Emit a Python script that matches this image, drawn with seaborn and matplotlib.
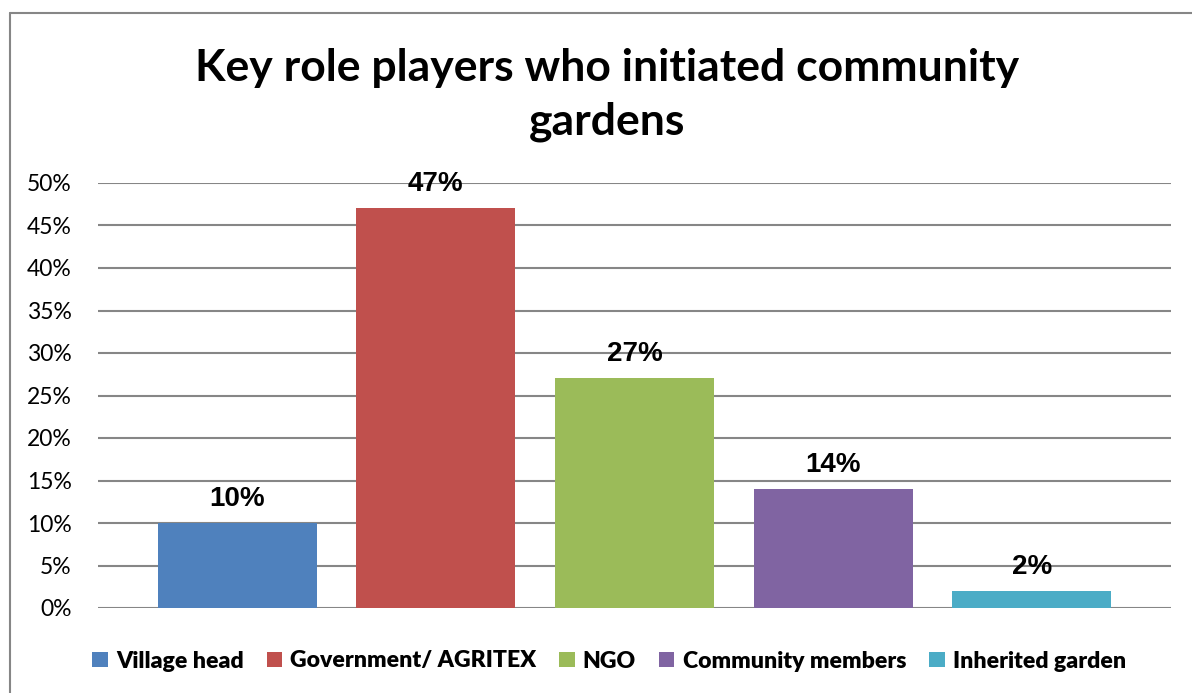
import matplotlib
matplotlib.use("Agg")
import matplotlib.pyplot as plt
import seaborn as sns
from matplotlib.patches import Patch
from matplotlib.lines import Line2D
from matplotlib.font_manager import FontProperties

categories = ["Village head", "Government/ AGRITEX", "NGO", "Community members", "Inherited garden"]
values = [0.10, 0.47, 0.27, 0.14, 0.02]
labels = ["10%", "47%", "27%", "14%", "2%"]
colors = ["#4F81BD", "#C0504D", "#9BBB59", "#8064A2", "#4BACC6"]
yticks = [0, 0.05, 0.10, 0.15, 0.20, 0.25, 0.30, 0.35, 0.40, 0.45, 0.50]
ytick_labels = ["0%", "5%", "10%", "15%", "20%", "25%", "30%", "35%", "40%", "45%", "50%"]
title = "Key role players who initiated community\ngardens"

sns.set_theme(style="white")
plt.rcParams["text.color"] = "black"
W, H = 1192, 693
fig = plt.figure(figsize=(W / 100, H / 100), dpi=100)
ax = fig.add_axes([98 / W, 1 - 608 / H, (1171 - 98) / W, (608 - 183) / H])

sns.barplot(x=categories, y=values, hue=categories, palette=colors, legend=False,
            width=0.8, saturation=1, ax=ax, zorder=3, linewidth=0)
ax.set_xlim(-0.70, 4.70)
ax.set_ylim(0, 0.5)
ax.set_yticks(yticks)
ax.set_yticklabels(ytick_labels, fontsize=16.5, family="Lato", color="black")
ax.set_xticks([])
ax.set_xlabel("")
ax.set_ylabel("")
ax.tick_params(axis="y", length=0, pad=19)
for s in ax.spines.values():
    s.set_visible(False)
ax.yaxis.grid(True, color="#868686", linewidth=1.5, zorder=0)
ax.set_axisbelow(True)

for cont, lab in zip(ax.containers, labels):
    ax.bar_label(cont, labels=[lab], padding=8, fontsize=20, fontweight="bold",
                 family="Liberation Sans", color="black")

fig.text(607 / W, 1 - 95 / H, title, ha="center", va="center", fontsize=32,
         fontweight="bold", family="Lato", linespacing=1.4, color="black")

handles = [Patch(facecolor=c, edgecolor="none") for c in colors]
leg_font = FontProperties(family="Lato", weight="heavy", size=16.6)
fig.legend(handles, categories, loc="center", bbox_to_anchor=(609 / W, 1 - 661 / H),
           ncol=5, frameon=False, prop=leg_font,
           handlelength=0.67, handleheight=0.67, handletextpad=0.35, columnspacing=1.0,
           labelcolor="black")

fig.add_artist(Line2D([10 / W, 10 / W], [0, 1 - 13 / H], transform=fig.transFigure,
                      color="#868686", linewidth=1.5))
fig.add_artist(Line2D([10 / W, 1], [1 - 13 / H, 1 - 13 / H], transform=fig.transFigure,
                      color="#868686", linewidth=1.5))

fig.savefig("out.png", dpi=100)
